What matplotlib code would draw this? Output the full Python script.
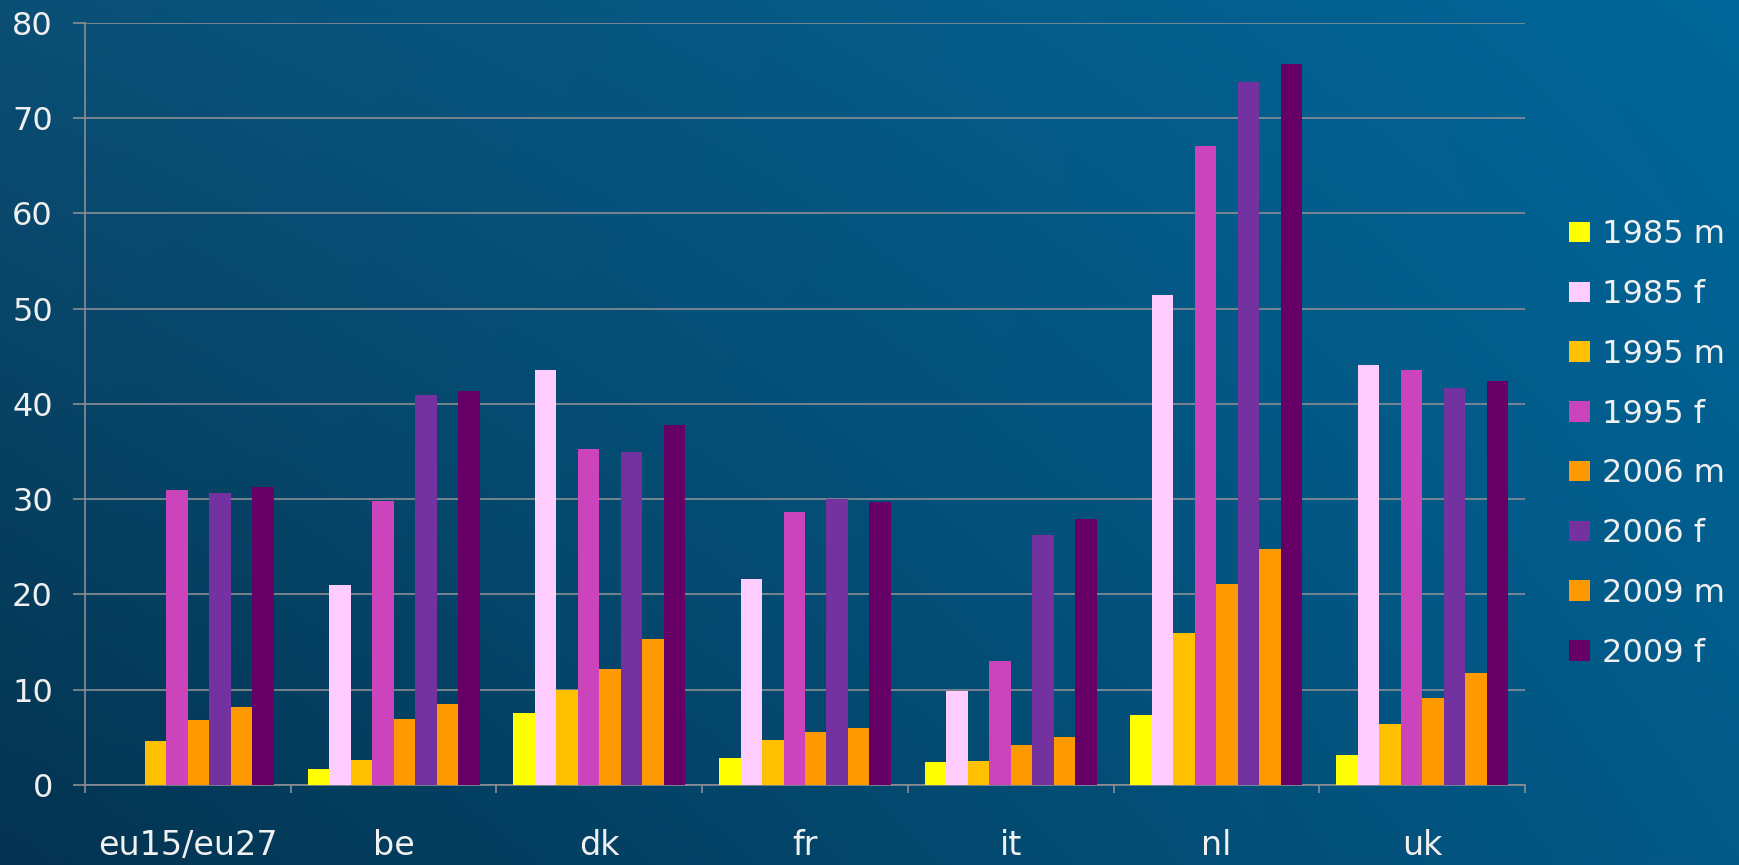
import numpy as np
import matplotlib
matplotlib.use("Agg")
import matplotlib.pyplot as plt

countries = ["eu15/eu27", "be", "dk", "fr", "it", "nl", "uk"]
series = ["1985 m", "1985 f", "1995 m", "1995 f", "2006 m", "2006 f", "2009 m", "2009 f"]

v1985m = [np.nan, 1.7, 7.6, 2.8, 2.4, 7.3, 3.1]
v1985f = [np.nan, 21.0, 43.5, 21.6, 9.9, 51.4, 44.1]
v1995m = [4.6, 2.6, 10.0, 4.7, 2.5, 16.0, 6.4]
v1995f = [31.0, 29.8, 35.3, 28.7, 13.0, 67.1, 43.6]
v2006m = [6.8, 6.9, 12.2, 5.6, 4.2, 21.1, 9.1]
v2006f = [30.6, 40.9, 34.9, 30.0, 26.2, 73.8, 41.7]
v2009m = [8.2, 8.5, 15.3, 6.0, 5.0, 24.8, 11.8]
v2009f = [31.3, 41.4, 37.8, 29.7, 27.9, 75.7, 42.4]

values = [v1985m, v1985f, v1995m, v1995f, v2006m, v2006f, v2009m, v2009f]
colors = ["#FFFF00", "#FFCCFF", "#FFC000", "#CC44BB", "#FF9900", "#7332A0", "#FF9900", "#660066"]

W, H = 1739, 865
fig = plt.figure(figsize=(W / 100, H / 100), dpi=100)

# background gradient (bilinear between corners)
tl = np.array([0x0B, 0x4F, 0x75]) / 255
tr = np.array([0x00, 0x66, 0x99]) / 255
bl = np.array([0x03, 0x33, 0x50]) / 255
br = np.array([0x03, 0x5A, 0x88]) / 255
u = np.linspace(0, 1, 200)[None, :, None]
v = np.linspace(0, 1, 100)[:, None, None]
top = tl * (1 - u) + tr * u
bot = bl * (1 - u) + br * u
img = top * (1 - v) + bot * v
bg = fig.add_axes([0, 0, 1, 1], zorder=-10)
bg.imshow(img, aspect="auto", extent=[0, 1, 0, 1], interpolation="bilinear")
bg.axis("off")

ax = fig.add_axes([85 / W, 1 - 785 / H, (1525 - 85) / W, (785 - 22.7) / H])
ax.set_facecolor("none")

n = len(series)
bw = 0.1045
x = np.arange(len(countries))
for i, (s, vals, c) in enumerate(zip(series, values, colors)):
    ax.bar(x + (i - (n - 1) / 2) * bw, vals, width=bw, color=c, label=s, zorder=3, linewidth=0)

ax.set_xlim(-0.5, len(countries) - 0.5)
ax.set_ylim(0, 80)
ax.set_yticks(np.arange(0, 81, 10))
gcol = "#8A8E94"
ax.yaxis.grid(True, color=gcol, linewidth=1.2, zorder=0)
ax.set_axisbelow(True)

ax.set_xticks(np.arange(-0.5, len(countries), 1.0))
ax.set_xticklabels([])
ax.set_xticks(x, minor=True)
ax.set_xticklabels(countries, minor=True)
ax.tick_params(axis="x", which="major", length=6, width=1.2, color=gcol, direction="out")
ax.tick_params(axis="x", which="minor", length=0, pad=32, labelsize=24, labelcolor="#F0F0F0")
ax.tick_params(axis="y", which="major", length=8.6, width=1.2, color=gcol, pad=14.5,
               labelsize=23, labelcolor="#F0F0F0")

for side in ["top", "right"]:
    ax.spines[side].set_visible(False)
for side in ["left", "bottom"]:
    ax.spines[side].set_color(gcol)
    ax.spines[side].set_linewidth(1.2)

leg = fig.legend(loc="center left", bbox_to_anchor=(1569 / W, 1 - 444 / H), frameon=False,
                 fontsize=23, handlelength=0.65, handleheight=0.6, handletextpad=0.38,
                 labelspacing=0.9, borderpad=0, borderaxespad=0)
for t in leg.get_texts():
    t.set_color("#F0F0F0")

fig.savefig("out.png", dpi=100)
